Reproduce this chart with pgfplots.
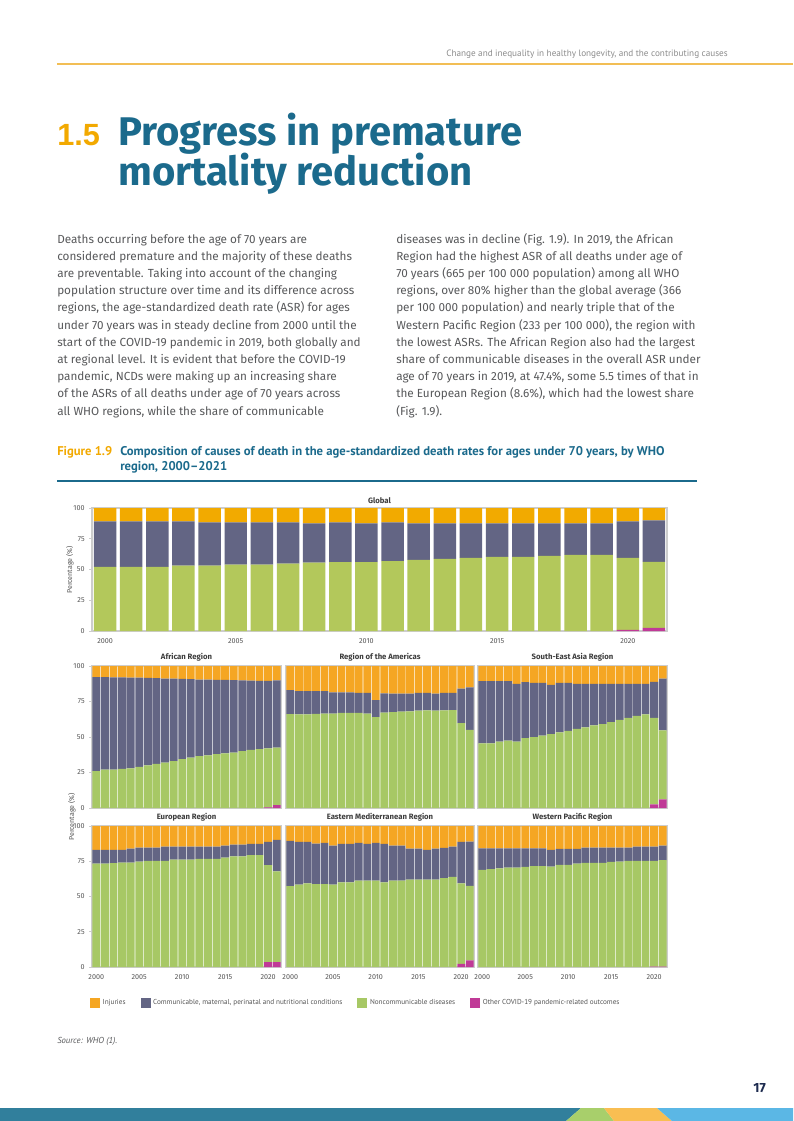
\documentclass[border=0pt]{standalone}
\usepackage{pgfplots}
\pgfplotsset{compat=1.18}
\usepackage{pgfplotstable}
\usepackage{fontspec}
\setmainfont{Fira Sans}
\newfontfamily\ptsans{PT Sans}
\newfontfamily\arialfont{Liberation Sans}

\definecolor{whoblue}{HTML}{1B6A8C}
\definecolor{whoorange}{HTML}{F2A900}
\definecolor{headline}{HTML}{F2BE55}
\definecolor{headgray}{HTML}{8C8C8C}
\definecolor{bodygray}{HTML}{58595B}
\definecolor{titlegray}{HTML}{3C3C3C}
\definecolor{tickgray}{HTML}{555555}
\definecolor{framegray}{HTML}{CDCDCD}
\definecolor{inj}{HTML}{F5A623}
\definecolor{injg}{HTML}{F2AA00}
\definecolor{cmn}{HTML}{636584}
\definecolor{ncd}{HTML}{A7C865}
\definecolor{ncdg}{HTML}{B3C85B}
\definecolor{cov}{HTML}{C03A97}
\definecolor{navy}{HTML}{1D2B4F}
\definecolor{fteal}{HTML}{317F9C}
\definecolor{fgreen}{HTML}{A8CF6B}
\definecolor{forange}{HTML}{F9BE52}
\definecolor{fblue}{HTML}{5BB7E5}

% year, covid top, ncd top, communicable top (cumulative %, injuries fill to 100)
\pgfplotstableread{
year cov ncd cmn
2000 0 52.1 89.2
2001 0 52.1 89.2
2002 0 52.1 89.2
2003 0 53.2 89.2
2004 0 53.2 88.4
2005 0 54.0 88.4
2006 0 54.0 88.4
2007 0 54.7 88.4
2008 0 55.5 87.6
2009 0 56.0 88.4
2010 0 56.0 87.6
2011 0 56.8 88.4
2012 0 57.9 87.6
2013 0 58.7 87.6
2014 0 59.5 87.6
2015 0 60.3 87.6
2016 0 60.3 87.6
2017 0 61.0 87.6
2018 0 61.8 87.6
2019 0 61.8 87.6
2020 1.0 59.5 89.2
2021 2.5 56.3 90.0
}\tglobal

\pgfplotstableread{
year cov ncd cmn
2000 0 26.0 92.2
2001 0 27.0 92.1
2002 0 27.0 92.0
2003 0 27.5 92.0
2004 0 28.0 91.9
2005 0 29.0 91.8
2006 0 30.0 91.7
2007 0 31.0 91.4
2008 0 32.0 91.2
2009 0 33.0 91.1
2010 0 34.5 91.0
2011 0 35.5 90.7
2012 0 36.5 90.5
2013 0 37.0 90.4
2014 0 38.0 90.3
2015 0 38.5 90.2
2016 0 39.0 90.0
2017 0 40.0 89.8
2018 0 41.0 89.7
2019 0 41.5 89.6
2020 0.5 42.0 89.6
2021 2.0 42.5 89.8
}\tafr

\pgfplotstableread{
year cov ncd cmn
2000 0 66.2 83.0
2001 0 66.0 82.3
2002 0 66.0 82.3
2003 0 66.3 82.3
2004 0 66.5 82.3
2005 0 66.5 81.5
2006 0 67.0 81.5
2007 0 67.0 81.5
2008 0 67.0 81.0
2009 0 66.5 81.0
2010 0 64.0 76.0
2011 0 67.2 80.8
2012 0 67.5 80.6
2013 0 67.8 80.6
2014 0 68.0 80.6
2015 0 68.5 81.0
2016 0 68.8 81.0
2017 0 68.5 80.6
2018 0 68.8 81.0
2019 0 69.0 81.0
2020 0 59.8 84.0
2021 0 55.0 85.0
}\tamr

\pgfplotstableread{
year cov ncd cmn
2000 0 45.6 89.4
2001 0 45.6 89.4
2002 0 46.8 89.4
2003 0 47.5 89.4
2004 0 46.8 87.5
2005 0 49.2 88.7
2006 0 49.9 88.2
2007 0 51.0 88.2
2008 0 52.0 86.8
2009 0 53.2 88.2
2010 0 54.4 88.2
2011 0 55.8 87.5
2012 0 56.7 87.5
2013 0 58.2 87.5
2014 0 59.1 87.5
2015 0 60.5 87.5
2016 0 62.0 87.5
2017 0 63.4 87.5
2018 0 64.8 87.5
2019 0 66.0 87.5
2020 2.6 63.4 88.9
2021 6.1 54.6 91.1
}\tsear

\pgfplotstableread{
year cov ncd cmn
2000 0 73.4 83.0
2001 0 73.4 83.0
2002 0 73.6 83.0
2003 0 74.1 83.0
2004 0 74.1 83.9
2005 0 74.8 84.7
2006 0 75.3 84.7
2007 0 75.3 84.7
2008 0 75.3 85.4
2009 0 76.2 85.4
2010 0 76.2 85.4
2011 0 76.2 85.4
2012 0 76.7 85.4
2013 0 76.7 85.4
2014 0 76.7 85.4
2015 0 77.6 86.1
2016 0 78.4 86.8
2017 0 78.4 86.8
2018 0 79.3 87.3
2019 0 79.3 87.3
2020 3.5 72.2 88.7
2021 3.5 67.8 90.1
}\teur

\pgfplotstableread{
year cov ncd cmn
2000 0 57.4 89.4
2001 0 58.4 88.7
2002 0 59.3 88.7
2003 0 58.8 87.5
2004 0 58.8 88.0
2005 0 58.4 86.1
2006 0 60.0 87.3
2007 0 60.0 87.3
2008 0 61.2 88.0
2009 0 61.2 87.3
2010 0 61.2 88.0
2011 0 60.0 87.3
2012 0 61.2 86.1
2013 0 61.2 86.1
2014 0 61.9 84.0
2015 0 61.9 84.0
2016 0 61.9 83.0
2017 0 61.9 84.0
2018 0 63.0 84.5
2019 0 64.0 85.4
2020 2.3 59.3 88.7
2021 4.7 57.6 89.0
}\temr

\pgfplotstableread{
year cov ncd cmn
2000 0 68.9 84.2
2001 0 69.4 84.2
2002 0 69.9 84.2
2003 0 70.4 84.2
2004 0 70.4 84.2
2005 0 71.0 84.2
2006 0 71.5 84.2
2007 0 71.5 84.2
2008 0 71.2 83.0
2009 0 72.5 83.8
2010 0 72.5 83.8
2011 0 73.4 83.8
2012 0 73.9 84.7
2013 0 73.9 84.7
2014 0 73.9 84.7
2015 0 74.6 84.7
2016 0 74.8 84.7
2017 0 75.3 84.7
2018 0 75.3 85.4
2019 0 75.3 85.4
2020 0.3 75.3 85.4
2021 0.3 75.8 86.1
}\twpr

\pgfplotsset{
  panel/.style={
    scale only axis, anchor=south west,
    ybar stacked, bar width=0.92,
    xmin=1999.5, xmax=2021.5, ymin=0, ymax=100,
    axis line style={draw=framegray, line width=0.9pt},
    xtick={2000,2005,...,2020},
    ytick={0,25,50,75,100},
    xtick style={draw=none},
    ytick style={draw=framegray, line width=0.5pt},
    major tick length=2pt,
    tick align=outside, tick pos=left,
    tick label style={font=\fontsize{5.4}{6}\selectfont, text=tickgray},
    /pgf/number format/assume math mode=true,
    /pgf/number format/1000 sep={},
  },
  noyt/.style={ytick=\empty},
  noxt/.style={xtick=\empty},
}

% stacked bars: covid, NCD, communicable, injuries
\newcommand\regionbars[3]{%
  \addplot[fill=cov, draw=none] table[x=year, y=cov] {#1};
  \addplot[fill=#2, draw=none] table[x=year, y expr=\thisrow{ncd}-\thisrow{cov}] {#1};
  \addplot[fill=cmn, draw=none] table[x=year, y expr=\thisrow{cmn}-\thisrow{ncd}] {#1};
  \addplot[fill=#3, draw=none] table[x=year, y expr=100-\thisrow{cmn}] {#1};
}

\begin{document}
\begin{tikzpicture}[x=0.75pt,y=-0.75pt]
\fill[white] (0,0) rectangle (793,1121);

% header
\node[anchor=base east, inner sep=0, font=\ptsans\fontsize{6.9}{8}\selectfont, text=headgray] at (728,56)
  {Change and inequality in healthy longevity, and the contributing causes};
\draw[headline, line width=0.9pt] (57,64) -- (793,64);

% section title
\node[anchor=base west, inner sep=0, font=\arialfont\bfseries\fontsize{23}{23}\selectfont, text=whoorange] at (57,145) {1.5};
\node[anchor=base west, inner sep=0, font=\bfseries\fontsize{30}{30}\selectfont, text=whoblue] at (118,145) {Progress in premature};
\node[anchor=base west, inner sep=0, font=\bfseries\fontsize{30}{30}\selectfont, text=whoblue] at (118,185) {mortality reduction};

% body text
\node[anchor=base west, inner sep=0, font=\fontsize{8.8}{12.9}\selectfont, text=bodygray] at (57,243) {\vtop{%
\hbox{Deaths occurring before the age of 70 years are}
\hbox{considered premature and the majority of these deaths}
\hbox{are preventable. Taking into account of the changing}
\hbox{population structure over time and its difference across}
\hbox{regions, the age-standardized death rate (ASR) for ages}
\hbox{under 70 years was in steady decline from 2000 until the}
\hbox{start of the COVID-19 pandemic in 2019, both globally and}
\hbox{at regional level. It is evident that before the COVID-19}
\hbox{pandemic, NCDs were making up an increasing share}
\hbox{of the ASRs of all deaths under age of 70 years across}
\hbox{all WHO regions, while the share of communicable}}};
\node[anchor=base west, inner sep=0, font=\fontsize{8.8}{12.9}\selectfont, text=bodygray] at (396,243) {\vtop{%
\hbox{diseases was in decline (Fig. 1.9). In 2019, the African}
\hbox{Region had the highest ASR of all deaths under age of}
\hbox{70 years (665 per 100 000 population) among all WHO}
\hbox{regions, over 80\% higher than the global average (366}
\hbox{per 100 000 population) and nearly triple that of the}
\hbox{Western Pacific Region (233 per 100 000), the region with}
\hbox{the lowest ASRs. The African Region also had the largest}
\hbox{share of communicable diseases in the overall ASR under}
\hbox{age of 70 years in 2019, at 47.4\%, some 5.5 times of that in}
\hbox{the European Region (8.6\%), which had the lowest share}
\hbox{(Fig. 1.9).}}};

% figure caption
\node[anchor=base west, inner sep=0, font=\ptsans\bfseries\fontsize{9.5}{11.25}\selectfont, text=whoorange] at (57,455.5) {Figure 1.9};
\node[anchor=base west, inner sep=0, font=\ptsans\bfseries\fontsize{9.5}{11.25}\selectfont, text=whoblue] at (120,455.5) {\vtop{%
\hbox{Composition of causes of death in the age-standardized death rates for ages under 70 years, by WHO}
\hbox{region, 2000–2021}}};
\draw[whoblue, line width=0.8pt] (57,481) -- (697,481);

% panel anchors
\coordinate (g) at (92,631);
\coordinate (p1) at (92,808);
\coordinate (p2) at (286,808);
\coordinate (p3) at (478,808);
\coordinate (p4) at (92,967);
\coordinate (p5) at (286,967);
\coordinate (p6) at (478,967);

\begin{axis}[panel, at={(g)}, width=431.25pt, height=92.25pt, bar width=0.86]
\regionbars{\tglobal}{ncdg}{injg}
\end{axis}

\begin{axis}[panel, noxt, at={(p1)}, width=141.75pt, height=106.5pt]
\regionbars{\tafr}{ncd}{inj}
\end{axis}
\begin{axis}[panel, noxt, noyt, at={(p2)}, width=141pt, height=106.5pt]
\regionbars{\tamr}{ncd}{inj}
\end{axis}
\begin{axis}[panel, noxt, noyt, at={(p3)}, width=141.75pt, height=106.5pt]
\regionbars{\tsear}{ncd}{inj}
\end{axis}

\begin{axis}[panel, at={(p4)}, width=141.75pt, height=105.75pt,
  legend columns=4, reverse legend, legend cell align=left,
  legend image code/.code={\fill[#1] (0pt,-3.6pt) rectangle (7.5pt,3.6pt);},
  legend style={at={(axis description cs:-0.012,-0.255)}, anchor=west,
    draw=none, fill=none, inner sep=0pt,
    font=\ptsans\fontsize{5.4}{6}\selectfont, text=tickgray,
    /tikz/every even column/.append style={column sep=9.2pt}}]
\regionbars{\teur}{ncd}{inj}
\legend{Other COVID-19 pandemic-related outcomes, Noncommunicable diseases,
  {Communicable, maternal, perinatal and nutritional conditions}, Injuries}
\end{axis}
\begin{axis}[panel, noyt, at={(p5)}, width=141pt, height=105.75pt]
\regionbars{\temr}{ncd}{inj}
\end{axis}
\begin{axis}[panel, noyt, at={(p6)}, width=141.75pt, height=105.75pt]
\regionbars{\twpr}{ncd}{inj}
\end{axis}

% panel titles and axis labels
\begin{scope}[every node/.style={anchor=base, inner sep=0, font=\bfseries\fontsize{5.8}{7}\selectfont, text=titlegray}]
\node at (379.5,503.5) {Global};
\node at (186.5,659.5) {African Region};
\node at (380,659.5) {Region of the Americas};
\node at (572.5,659.5) {South-East Asia Region};
\node at (186.5,819.5) {European Region};
\node at (380,819.5) {Eastern Mediterranean Region};
\node at (572.5,819.5) {Western Pacific Region};
\end{scope}
\node[rotate=90, inner sep=0, font=\fontsize{5.3}{6}\selectfont, text=tickgray] at (70,570) {Percentage (\%)};
\node[rotate=90, inner sep=0, font=\fontsize{5.3}{6}\selectfont, text=tickgray] at (72,817) {Percentage (\%)};

% source and page number
\node[anchor=base west, inner sep=0, font=\ptsans\itshape\fontsize{6.5}{8}\selectfont, text=bodygray] at (57,1043) {Source: WHO (1).};
\node[anchor=base east, inner sep=0, font=\bfseries\fontsize{10}{12}\selectfont, text=navy] at (766,1092) {17};

% footer band
\fill[fteal] (0,1108) -- (581,1108) -- (566,1121) -- (0,1121) -- cycle;
\fill[fgreen] (566,1121) -- (581,1108) -- (604,1108) -- (614,1121) -- cycle;
\fill[forange] (604,1108) -- (657,1108) -- (672,1121) -- (614,1121) -- cycle;
\fill[fblue] (657,1108) -- (793,1108) -- (793,1121) -- (672,1121) -- cycle;
\end{tikzpicture}
\end{document}
